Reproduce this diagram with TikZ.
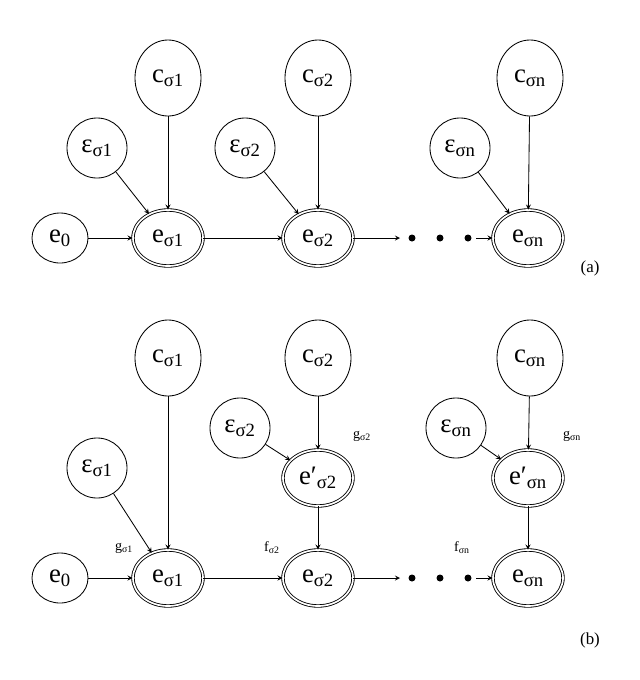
\documentclass[tikz,border=0pt]{standalone}
\usepackage{fontspec}
\setmainfont{Liberation Serif}
\usepackage{amsmath}
\usetikzlibrary{shapes.geometric}
\begin{document}
\begin{tikzpicture}[x=0.025cm,y=-0.025cm, line width=0.6pt,
    var/.style={draw, ellipse, inner sep=0pt, font=\fontsize{19}{21}\selectfont},
    big/.style={var, minimum width=1.65cm, minimum height=1.9cm},
    small/.style={var, minimum width=1.5cm, minimum height=1.5cm},
    st/.style={var, double, double distance=1.2pt, minimum width=1.75cm, minimum height=1.4cm},
    zero/.style={var, minimum width=1.4cm, minimum height=1.25cm},
    lab/.style={font=\fontsize{10}{12}\selectfont},
    arr/.style={->, >=stealth}]
    \useasboundingbox (0,0) rectangle (640,680);

    % (a)
    \node[big] (ca1) at (168,78) {c\textsubscript{σ1}};
    \node[big] (ca2) at (318,78) {c\textsubscript{σ2}};
    \node[big] (can) at (530,78) {c\textsubscript{σn}};
    \node[small] (ea1) at (97,148) {ε\textsubscript{σ1}};
    \node[small] (ea2) at (245,148) {ε\textsubscript{σ2}};
    \node[small] (ean) at (460,148) {ε\textsubscript{σn}};
    \node[zero] (a0) at (60,238) {e\textsubscript{0}};
    \node[st] (sa1) at (168,238) {e\textsubscript{σ1}};
    \node[st] (sa2) at (318,238) {e\textsubscript{σ2}};
    \node[st] (san) at (528,238) {e\textsubscript{σn}};
    \coordinate (da1) at (400,238);
    \coordinate (da2) at (476,238);
    \foreach \x in {412,440,468} \fill (\x,238) circle (3.5);

    \draw[arr] (ca1) -- (sa1);
    \draw[arr] (ca2) -- (sa2);
    \draw[arr] (can) -- (san);
    \draw[arr] (ea1) -- (sa1);
    \draw[arr] (ea2) -- (sa2);
    \draw[arr] (ean) -- (san);
    \draw[arr] (a0) -- (sa1);
    \draw[arr] (sa1) -- (sa2);
    \draw[arr] (sa2) -- (da1);
    \draw[arr] (da2) -- (san);
    \node[font=\large] at (590,268) {(a)};

    % (b)
    \node[big] (cb1) at (168,358) {c\textsubscript{σ1}};
    \node[big] (cb2) at (318,358) {c\textsubscript{σ2}};
    \node[big] (cbn) at (530,358) {c\textsubscript{σn}};
    \node[small] (eb1) at (97,468) {ε\textsubscript{σ1}};
    \node[small] (eb2) at (240,428) {ε\textsubscript{σ2}};
    \node[small] (ebn) at (456,428) {ε\textsubscript{σn}};
    \node[st] (pb2) at (318,478) {e′\textsubscript{σ2}};
    \node[st] (pbn) at (528,478) {e′\textsubscript{σn}};
    \node[zero] (b0) at (60,578) {e\textsubscript{0}};
    \node[st] (sb1) at (168,578) {e\textsubscript{σ1}};
    \node[st] (sb2) at (318,578) {e\textsubscript{σ2}};
    \node[st] (sbn) at (528,578) {e\textsubscript{σn}};
    \coordinate (db1) at (400,578);
    \coordinate (db2) at (476,578);
    \foreach \x in {412,440,468} \fill (\x,578) circle (3.5);

    \draw[arr] (cb1) -- (sb1);
    \draw[arr] (cb2) -- (pb2);
    \draw[arr] (cbn) -- (pbn);
    \draw[arr] (eb1) -- (sb1);
    \draw[arr] (eb2) -- (pb2);
    \draw[arr] (ebn) -- (pbn);
    \draw[arr] (pb2) -- (sb2);
    \draw[arr] (pbn) -- (sbn);
    \draw[arr] (b0) -- (sb1);
    \draw[arr] (sb1) -- (sb2);
    \draw[arr] (sb2) -- (db1);
    \draw[arr] (db2) -- (sbn);

    \node[lab] (g1) at (124,548) {g\textsubscript{σ1}};
    \node[lab] (f2) at (272,548) {f\textsubscript{σ2}};
    \node[lab] (g2) at (362,436) {g\textsubscript{σ2}};
    \node[lab] (gn) at (572,436) {g\textsubscript{σn}};
    \node[lab] (fn) at (462,548) {f\textsubscript{σn}};
    \node[font=\large] at (590,640) {(b)};
\end{tikzpicture}
\end{document}
